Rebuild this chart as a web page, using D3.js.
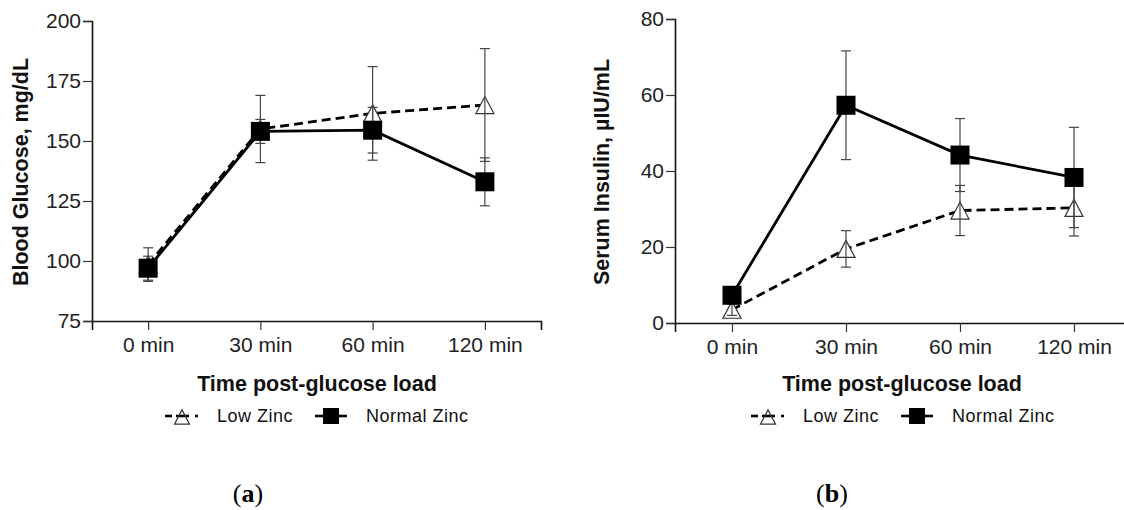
<!DOCTYPE html>
<html>
<head>
<meta charset="utf-8">
<script src="https://cdn.jsdelivr.net/npm/d3@7"></script>
<style>
  body { margin: 0; background: #fff; }
  svg { display: block; font-family: "Liberation Sans", Arial, sans-serif; }
</style>
</head>
<body>
<script>

// categories (time after glucose load)
const timeLabels = ["0 min", "30 min", "60 min", "120 min"];

// (a) blood glucose, mg/dL
const glucoseLow = [98.5, 155, 161.5, 165];
const glucoseLowErr = [7, 14, 19.5, 23.5];
const glucoseNormal = [97, 154, 154.5, 133];
const glucoseNormalErr = [5, 5, 9.5, 10];
const glucoseTicks = [75, 100, 125, 150, 175, 200];

// (b) serum insulin, uIU/mL
const insulinLow = [3.5, 19.5, 29.6, 30.3];
const insulinLowErr = [1.5, 4.8, 6.6, 7.4];
const insulinNormal = [7.3, 57.3, 44.2, 38.3];
const insulinNormalErr = [2, 14.3, 9.6, 13.2];
const insulinTicks = [0, 20, 40, 60, 80];

const seriesNames = ["Low Zinc", "Normal Zinc"];

let width = 1124;
let height = 510;

let svg = d3.select("body")
    .append("svg")
    .attr("width", width)
    .attr("height", height)

svg.append("rect").attr("width", width).attr("height", height).attr("fill", "#fff")

function triangle(size) {
    let h = size * 0.95
    return "M0," + (-h / 2) + "L" + (size / 2) + "," + (h / 2) + "L" + (-size / 2) + "," + (h / 2) + "Z"
}

function drawPanel(p) {
    let g = svg.append("g")

    let xScale = d3.scalePoint()
        .domain(timeLabels)
        .range([p.left, p.right])
        .padding(0.5)

    let yScale = d3.scaleLinear()
        .domain(p.domain)
        .range([p.bottom, p.top])

    // axes
    let yAxis = d3.axisLeft(yScale).tickValues(p.ticks).tickSizeOuter(0).tickSize(9).tickPadding(2)
    let yg = g.append("g")
        .attr("transform", "translate(" + p.left + ",0)")
        .call(yAxis)
    yg.selectAll("text").attr("font-size", 21).attr("fill", "#222").attr("font-family", "Liberation Sans, Arial, sans-serif")

    let xAxis = d3.axisBottom(xScale).tickSizeOuter(0).tickSize(9).tickPadding(7)
    let xg = g.append("g")
        .attr("transform", "translate(0," + p.bottom + ")")
        .call(xAxis)
    xg.selectAll("text").attr("font-size", 21).attr("fill", "#222").attr("font-family", "Liberation Sans, Arial, sans-serif")

    g.selectAll(".domain").attr("stroke", "#111").attr("stroke-width", 1.6)
    g.selectAll(".tick line").attr("stroke", "#333").attr("stroke-width", 1.2)

    let lineGen = d3.line()
        .x((d, i) => xScale(timeLabels[i]))
        .y(d => yScale(d))

    // normal zinc line (solid)
    g.append("path")
        .datum(p.normal)
        .attr("d", lineGen)
        .attr("fill", "none")
        .attr("stroke", "#000")
        .attr("stroke-width", 2.8)

    // low zinc line (dashed)
    g.append("path")
        .datum(p.low)
        .attr("d", lineGen)
        .attr("fill", "none")
        .attr("stroke", "#000")
        .attr("stroke-width", 2.8)
        .attr("stroke-dasharray", "9,5")

    // triangles
    g.selectAll(".tri")
        .data(p.low)
        .enter()
        .append("path")
        .attr("class", "tri")
        .attr("d", triangle(18))
        .attr("transform", (d, i) => "translate(" + xScale(timeLabels[i]) + "," + yScale(d) + ")")
        .attr("fill", "#fff")
        .attr("stroke", "#333")
        .attr("stroke-width", 1.2)

    // error bars
    let errs = []
    p.low.forEach((v, i) => errs.push({ x: timeLabels[i], v: v, e: p.lowErr[i] }))
    p.normal.forEach((v, i) => errs.push({ x: timeLabels[i], v: v, e: p.normalErr[i] }))

    let eb = g.selectAll(".err")
        .data(errs)
        .enter()
        .append("g")
        .attr("class", "err")
        .attr("stroke", "#444")
        .attr("stroke-width", 1.2)
    eb.append("line")
        .attr("x1", d => xScale(d.x)).attr("x2", d => xScale(d.x))
        .attr("y1", d => yScale(d.v - d.e)).attr("y2", d => yScale(d.v + d.e))
    eb.append("line")
        .attr("x1", d => xScale(d.x) - 5).attr("x2", d => xScale(d.x) + 5)
        .attr("y1", d => yScale(d.v + d.e)).attr("y2", d => yScale(d.v + d.e))
    eb.append("line")
        .attr("x1", d => xScale(d.x) - 5).attr("x2", d => xScale(d.x) + 5)
        .attr("y1", d => yScale(d.v - d.e)).attr("y2", d => yScale(d.v - d.e))

    // squares
    g.selectAll(".sq")
        .data(p.normal)
        .enter()
        .append("rect")
        .attr("class", "sq")
        .attr("x", (d, i) => xScale(timeLabels[i]) - 9.5)
        .attr("y", d => yScale(d) - 9.5)
        .attr("width", 19)
        .attr("height", 19)
        .attr("fill", "#000")

    // y axis label
    g.append("text")
        .attr("transform", "translate(" + p.yLabelX + "," + ((p.top + p.bottom) / 2 + 1) + ") rotate(-90)")
        .attr("text-anchor", "middle")
        .attr("font-size", 21.5)
        .attr("font-weight", "bold")
        .attr("fill", "#111")
        .text(p.yLabel)

    // x axis label
    g.append("text")
        .attr("x", p.xLabelX)
        .attr("y", 391)
        .attr("text-anchor", "middle")
        .attr("font-size", 21.5)
        .attr("font-weight", "bold")
        .attr("fill", "#111")
        .text("Time post-glucose load")

    // legend
    let lg = g.append("g").attr("transform", "translate(0," + 416 + ")")
    let c1 = p.legendX
    lg.append("line").attr("x1", c1 - 17).attr("x2", c1 - 10).attr("y1", 0).attr("y2", 0)
        .attr("stroke", "#000").attr("stroke-width", 2.6)
    lg.append("line").attr("x1", c1 - 6).attr("x2", c1 + 7).attr("y1", 0).attr("y2", 0)
        .attr("stroke", "#000").attr("stroke-width", 2.6)
    lg.append("line").attr("x1", c1 + 13).attr("x2", c1 + 16).attr("y1", 0).attr("y2", 0)
        .attr("stroke", "#000").attr("stroke-width", 2.6)
    lg.append("path").attr("d", triangle(15)).attr("transform", "translate(" + c1 + ",1)")
        .attr("fill", "none").attr("stroke", "#333").attr("stroke-width", 1.2)
    lg.append("text").attr("x", c1 + 35).attr("y", 6).attr("font-size", 18)
        .attr("letter-spacing", 0.5).attr("fill", "#111").text(seriesNames[0])

    let c2 = c1 + 149
    lg.append("line").attr("x1", c2 - 16).attr("x2", c2 + 16).attr("y1", 0).attr("y2", 0)
        .attr("stroke", "#000").attr("stroke-width", 2.6)
    lg.append("rect").attr("x", c2 - 8).attr("y", -8).attr("width", 16).attr("height", 16).attr("fill", "#000")
    lg.append("text").attr("x", c2 + 35).attr("y", 6).attr("font-size", 18)
        .attr("letter-spacing", 0.5).attr("fill", "#111").text(seriesNames[1])

    // panel letter, only the letter is bold
    svg.append("text")
        .attr("x", p.letterX)
        .attr("y", 502)
        .attr("text-anchor", "middle")
        .attr("font-family", "Liberation Serif, Times New Roman, serif")
        .attr("font-size", 26)
        .attr("fill", "#000")
        .html("(<tspan font-weight='bold'>" + p.letter + "</tspan>)")
}

drawPanel({
    left: 92, right: 541, top: 21, bottom: 321,
    domain: [75, 200], ticks: glucoseTicks,
    low: glucoseLow, lowErr: glucoseLowErr,
    normal: glucoseNormal, normalErr: glucoseNormalErr,
    yLabel: "Blood Glucose, mg/dL", yLabelX: 28,
    xLabelX: 317, legendX: 182,
    letter: "a", letterX: 248
})

drawPanel({
    left: 675, right: 1131, top: 19, bottom: 323,
    domain: [0, 80], ticks: insulinTicks,
    low: insulinLow, lowErr: insulinLowErr,
    normal: insulinNormal, normalErr: insulinNormalErr,
    yLabel: "Serum Insulin, \u00b5IU/mL", yLabelX: 609,
    xLabelX: 902, legendX: 768,
    letter: "b", letterX: 832
})

</script>
</body>
</html>
